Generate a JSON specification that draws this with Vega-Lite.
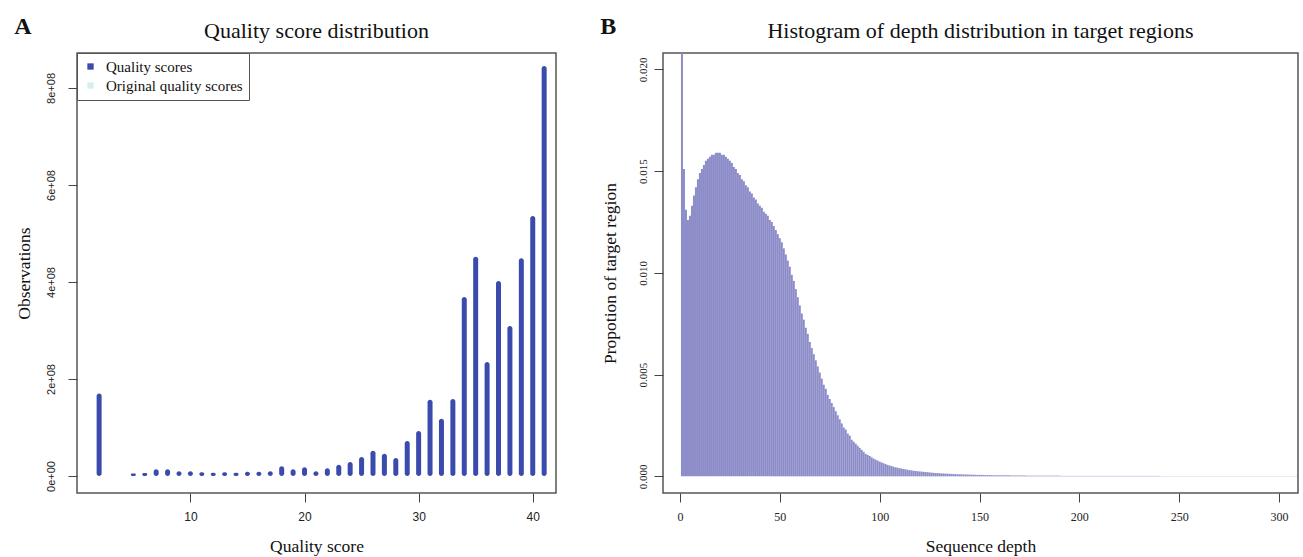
{
  "$schema": "https://vega.github.io/schema/vega-lite/v6.json",
  "padding": {"left": 14, "top": 15, "right": 4, "bottom": 0},
  "background": "white",
  "spacing": 43,
  "config": {
    "view": {"stroke": "#555", "strokeWidth": 1.5},
    "axis": {"domain": false, "grid": false, "tickColor": "#444", "tickSize": 9, "labelColor": "#222", "titleFont": "Liberation Serif", "titleFontSize": 17.5, "titleFontWeight": "normal", "titleColor": "#111"},
    "title": {"font": "Liberation Serif", "fontSize": 22, "fontWeight": "normal", "color": "#111"}
  },
  "datasets": {
    "quality": [
      {"q": 2, "n": 170000000, "s": "Quality scores"},
      {"q": 5, "n": 5000000, "s": "Quality scores"},
      {"q": 6, "n": 6000000, "s": "Quality scores"},
      {"q": 7, "n": 14000000, "s": "Quality scores"},
      {"q": 8, "n": 14000000, "s": "Quality scores"},
      {"q": 9, "n": 10000000, "s": "Quality scores"},
      {"q": 10, "n": 10000000, "s": "Quality scores"},
      {"q": 11, "n": 8000000, "s": "Quality scores"},
      {"q": 12, "n": 7000000, "s": "Quality scores"},
      {"q": 13, "n": 8000000, "s": "Quality scores"},
      {"q": 14, "n": 7000000, "s": "Quality scores"},
      {"q": 15, "n": 9000000, "s": "Quality scores"},
      {"q": 16, "n": 9000000, "s": "Quality scores"},
      {"q": 17, "n": 10000000, "s": "Quality scores"},
      {"q": 18, "n": 20000000, "s": "Quality scores"},
      {"q": 19, "n": 14000000, "s": "Quality scores"},
      {"q": 20, "n": 18000000, "s": "Quality scores"},
      {"q": 21, "n": 10000000, "s": "Quality scores"},
      {"q": 22, "n": 16000000, "s": "Quality scores"},
      {"q": 23, "n": 23000000, "s": "Quality scores"},
      {"q": 24, "n": 29000000, "s": "Quality scores"},
      {"q": 25, "n": 39000000, "s": "Quality scores"},
      {"q": 26, "n": 52000000, "s": "Quality scores"},
      {"q": 27, "n": 46000000, "s": "Quality scores"},
      {"q": 28, "n": 37000000, "s": "Quality scores"},
      {"q": 29, "n": 72000000, "s": "Quality scores"},
      {"q": 30, "n": 93000000, "s": "Quality scores"},
      {"q": 31, "n": 157000000, "s": "Quality scores"},
      {"q": 32, "n": 118000000, "s": "Quality scores"},
      {"q": 33, "n": 159000000, "s": "Quality scores"},
      {"q": 34, "n": 369000000, "s": "Quality scores"},
      {"q": 35, "n": 452000000, "s": "Quality scores"},
      {"q": 36, "n": 235000000, "s": "Quality scores"},
      {"q": 37, "n": 402000000, "s": "Quality scores"},
      {"q": 38, "n": 309000000, "s": "Quality scores"},
      {"q": 39, "n": 449000000, "s": "Quality scores"},
      {"q": 40, "n": 536000000, "s": "Quality scores"},
      {"q": 41, "n": 845000000, "s": "Quality scores"}
    ],
    "depth": [
      {"d":1,"p":0.035},{"d":2,"p":0.0151},{"d":3,"p":0.0131},{"d":4,"p":0.0126},{"d":5,"p":0.0128},{"d":6,"p":0.0133},{"d":7,"p":0.0138},{"d":8,"p":0.0142},{"d":9,"p":0.0146},{"d":10,"p":0.0149},
      {"d":11,"p":0.0151},{"d":12,"p":0.0153},{"d":13,"p":0.0155},{"d":14,"p":0.0156},{"d":15,"p":0.0157},{"d":16,"p":0.0158},{"d":17,"p":0.0158},{"d":18,"p":0.0159},{"d":19,"p":0.0159},{"d":20,"p":0.0159},
      {"d":21,"p":0.0158},{"d":22,"p":0.0158},{"d":23,"p":0.0157},{"d":24,"p":0.0156},{"d":25,"p":0.0155},{"d":26,"p":0.0154},{"d":27,"p":0.0152},{"d":28,"p":0.0151},{"d":29,"p":0.0149},{"d":30,"p":0.0148},
      {"d":31,"p":0.0146},{"d":32,"p":0.0145},{"d":33,"p":0.0143},{"d":34,"p":0.0142},{"d":35,"p":0.014},{"d":36,"p":0.0139},{"d":37,"p":0.0137},{"d":38,"p":0.0136},{"d":39,"p":0.0134},{"d":40,"p":0.0133},
      {"d":41,"p":0.0132},{"d":42,"p":0.013},{"d":43,"p":0.0129},{"d":44,"p":0.0128},{"d":45,"p":0.0126},{"d":46,"p":0.0125},{"d":47,"p":0.0123},{"d":48,"p":0.0121},{"d":49,"p":0.0119},{"d":50,"p":0.0117},
      {"d":51,"p":0.0115},{"d":52,"p":0.0112},{"d":53,"p":0.0109},{"d":54,"p":0.0106},{"d":55,"p":0.0103},{"d":56,"p":0.0099},{"d":57,"p":0.0096},{"d":58,"p":0.0092},{"d":59,"p":0.0088},{"d":60,"p":0.0084},
      {"d":61,"p":0.008},{"d":62,"p":0.0077},{"d":63,"p":0.0073},{"d":64,"p":0.007},{"d":65,"p":0.0066},{"d":66,"p":0.0063},{"d":67,"p":0.006},{"d":68,"p":0.0057},{"d":69,"p":0.0054},{"d":70,"p":0.0051},
      {"d":71,"p":0.0048},{"d":72,"p":0.0045},{"d":73,"p":0.0043},{"d":74,"p":0.004},{"d":75,"p":0.0038},{"d":76,"p":0.0036},{"d":77,"p":0.0034},{"d":78,"p":0.0032},{"d":79,"p":0.003},{"d":80,"p":0.0028},
      {"d":81,"p":0.0026},{"d":82,"p":0.0024},{"d":83,"p":0.0023},{"d":84,"p":0.0021},{"d":85,"p":0.002},{"d":86,"p":0.0018},{"d":87,"p":0.0017},{"d":88,"p":0.0016},{"d":89,"p":0.0015},{"d":90,"p":0.0014},
      {"d":91,"p":0.0013},{"d":92,"p":0.0012},{"d":93,"p":0.0011},{"d":94,"p":0.00105},{"d":95,"p":0.001},{"d":96,"p":0.00093},{"d":97,"p":0.00087},{"d":98,"p":0.00082},{"d":99,"p":0.00077},{"d":100,"p":0.00072},
      {"d":101,"p":0.00068},{"d":102,"p":0.00064},{"d":103,"p":0.0006},{"d":104,"p":0.00056},{"d":105,"p":0.00053},{"d":106,"p":0.0005},{"d":107,"p":0.00047},{"d":108,"p":0.00044},{"d":109,"p":0.00042},{"d":110,"p":0.0004},
      {"d":111,"p":0.00038},{"d":112,"p":0.00036},{"d":113,"p":0.00034},{"d":114,"p":0.00032},{"d":115,"p":0.0003},{"d":116,"p":0.00029},{"d":117,"p":0.00027},{"d":118,"p":0.00026},{"d":119,"p":0.00025},{"d":120,"p":0.00024},
      {"d":121,"p":0.00023},{"d":122,"p":0.00022},{"d":123,"p":0.00021},{"d":124,"p":0.0002},{"d":125,"p":0.00019},{"d":126,"p":0.00018},{"d":127,"p":0.00017},{"d":128,"p":0.00016},{"d":129,"p":0.00016},{"d":130,"p":0.00015},
      {"d":131,"p":0.00014},{"d":132,"p":0.00014},{"d":133,"p":0.00013},{"d":134,"p":0.00013},{"d":135,"p":0.00012},{"d":136,"p":0.00012},{"d":137,"p":0.00011},{"d":138,"p":0.00011},{"d":139,"p":0.0001},{"d":140,"p":0.0001},
      {"d":141,"p":0.0001},{"d":142,"p":0.00009},{"d":143,"p":0.00009},{"d":144,"p":0.00009},{"d":145,"p":0.00008},{"d":146,"p":0.00008},{"d":147,"p":0.00008},{"d":148,"p":0.00007},{"d":149,"p":0.00007},{"d":150,"p":0.00007},
      {"d":151,"p":0.00007},{"d":152,"p":0.00006},{"d":153,"p":0.00006},{"d":154,"p":0.00006},{"d":155,"p":0.00006},{"d":156,"p":0.00006},{"d":157,"p":0.00005},{"d":158,"p":0.00005},{"d":159,"p":0.00005},{"d":160,"p":0.00005},
      {"d":161,"p":0.00005},{"d":162,"p":0.00005},{"d":163,"p":0.00005},{"d":164,"p":0.00005},{"d":165,"p":0.00005},{"d":166,"p":0.00004},{"d":167,"p":0.00004},{"d":168,"p":0.00004},{"d":169,"p":0.00004},{"d":170,"p":0.00004},
      {"d":171,"p":0.00004},{"d":172,"p":0.00004},{"d":173,"p":0.00004},{"d":174,"p":0.00003},{"d":175,"p":0.00003},{"d":176,"p":0.00003},{"d":177,"p":0.00003},{"d":178,"p":0.00003},{"d":179,"p":0.00003},{"d":180,"p":0.00003},
      {"d":181,"p":0.00003},{"d":182,"p":0.00003},{"d":183,"p":0.00003},{"d":184,"p":0.00003},{"d":185,"p":0.00003},{"d":186,"p":0.00003},{"d":187,"p":0.00003},{"d":188,"p":0.00003},{"d":189,"p":0.00003},{"d":190,"p":0.00003},
      {"d":191,"p":0.00002},{"d":192,"p":0.00002},{"d":193,"p":0.00002},{"d":194,"p":0.00002},{"d":195,"p":0.00002},{"d":196,"p":0.00002},{"d":197,"p":0.00002},{"d":198,"p":0.00002},{"d":199,"p":0.00002},{"d":200,"p":0.00002},
      {"d":201,"p":0.00002},{"d":202,"p":0.00002},{"d":203,"p":0.00002},{"d":204,"p":0.00002},{"d":205,"p":0.00002},{"d":206,"p":0.00002},{"d":207,"p":0.00002},{"d":208,"p":0.00002},{"d":209,"p":0.00002},{"d":210,"p":0.00002},
      {"d":211,"p":0.00002},{"d":212,"p":0.00002},{"d":213,"p":0.00002},{"d":214,"p":0.00002},{"d":215,"p":0.00002},{"d":216,"p":0.00002},{"d":217,"p":0.00002},{"d":218,"p":0.00002},{"d":219,"p":0.00002},{"d":220,"p":0.00002},
      {"d":221,"p":0.00002},{"d":222,"p":0.00002},{"d":223,"p":0.00002},{"d":224,"p":0.00002},{"d":225,"p":0.00002},{"d":226,"p":0.00002},{"d":227,"p":0.00002},{"d":228,"p":0.00002},{"d":229,"p":0.00002},{"d":230,"p":0.00002},
      {"d":231,"p":0.00002},{"d":232,"p":0.00002},{"d":233,"p":0.00002},{"d":234,"p":0.00002},{"d":235,"p":0.00002},{"d":236,"p":0.00002},{"d":237,"p":0.00002},{"d":238,"p":0.00002},{"d":239,"p":0.00002},{"d":240,"p":0.00002},
      {"d":241,"p":0.00001},{"d":242,"p":0.00001},{"d":243,"p":0.00001},{"d":244,"p":0.00001},{"d":245,"p":0.00001},{"d":246,"p":0.00001},{"d":247,"p":0.00001},{"d":248,"p":0.00001},{"d":249,"p":0.00001},{"d":250,"p":0.00001},
      {"d":251,"p":0.00001},{"d":252,"p":0.00001},{"d":253,"p":0.00001},{"d":254,"p":0.00001},{"d":255,"p":0.00001},{"d":256,"p":0.00001},{"d":257,"p":0.00001},{"d":258,"p":0.00001},{"d":259,"p":0.00001},{"d":260,"p":0.00001},
      {"d":261,"p":0.00001},{"d":262,"p":0.00001},{"d":263,"p":0.00001},{"d":264,"p":0.00001},{"d":265,"p":0.00001},{"d":266,"p":0.00001},{"d":267,"p":0.00001},{"d":268,"p":0.00001},{"d":269,"p":0.00001},{"d":270,"p":0.00001},
      {"d":271,"p":0.00001},{"d":272,"p":0.00001},{"d":273,"p":0.00001},{"d":274,"p":0.00001},{"d":275,"p":0.00001},{"d":276,"p":0.00001},{"d":277,"p":0.00001},{"d":278,"p":0.00001},{"d":279,"p":0.00001},{"d":280,"p":0.00001},
      {"d":281,"p":0.00001},{"d":282,"p":0.00001},{"d":283,"p":0.00001},{"d":284,"p":0.00001},{"d":285,"p":0.00001},{"d":286,"p":0.00001},{"d":287,"p":0.00001},{"d":288,"p":0.00001},{"d":289,"p":0.00001},{"d":290,"p":0.00001},
      {"d":291,"p":0.00001},{"d":292,"p":0.00001},{"d":293,"p":0.00001},{"d":294,"p":0.00001},{"d":295,"p":0.00001},{"d":296,"p":0.00001},{"d":297,"p":0.00001},{"d":298,"p":0.00001},{"d":299,"p":0.00001},{"d":300,"p":0.00001},
      {"d":301,"p":0.00001},{"d":302,"p":0.00001},{"d":303,"p":0.00001},{"d":304,"p":0.00001},{"d":305,"p":0.00001},{"d":306,"p":0.00001},{"d":307,"p":0.00001},{"d":308,"p":0.00001},{"d":309,"p":0.00001}
    ]
  },
  "hconcat": [
    {
      "title": {"text": "A", "anchor": "start", "frame": "bounds", "fontWeight": "bold", "fontSize": 24, "offset": -20},
      "vconcat": [
        {
          "title": {"text": "Quality score distribution", "anchor": "middle", "offset": 10},
          "width": 479,
          "height": 440,
          "data": {"name": "quality"},
          "mark": {"type": "bar", "width": 5, "cornerRadius": 2.5},
          "encoding": {
            "x": {"field": "q", "type": "quantitative", "scale": {"domain": [0.5, 41.6], "nice": false, "zero": false},
                  "axis": {"values": [10, 20, 30, 40], "title": "Quality score", "labelFont": "Liberation Sans", "labelFontSize": 12, "labelPadding": 9, "titlePadding": 15}},
            "y": {"field": "n", "type": "quantitative", "stack": null, "scale": {"domain": [-35000000, 872000000], "nice": false, "zero": false},
                  "axis": {"values": [0, 200000000, 400000000, 600000000, 800000000], "labelExpr": "datum.value == 0 ? '0e+00' : (datum.value/1e8) + 'e+08'", "labelAngle": -90, "labelFont": "Liberation Sans", "labelFontSize": 11, "labelPadding": 12, "title": "Observations", "titlePadding": 12}},
            "y2": {"datum": 0},
            "color": {"field": "s", "type": "nominal",
                      "scale": {"domain": ["Quality scores", "Original quality scores"], "range": ["#3b4bad", "#d3eeee"]},
                      "legend": {"title": null, "orient": "top-left", "offset": 0, "symbolType": "square", "symbolSize": 40, "labelFont": "Liberation Serif", "labelFontSize": 15, "labelColor": "#111", "strokeColor": "#555", "fillColor": "white", "padding": 6, "rowPadding": 3, "labelOffset": 8}}
          }
        }
      ]
    },
    {
      "title": {"text": "B", "anchor": "start", "frame": "bounds", "fontWeight": "bold", "fontSize": 24, "offset": -20},
      "vconcat": [
        {
          "title": {"text": "Histogram of depth distribution in target regions", "anchor": "middle", "offset": 10},
          "width": 635,
          "height": 440,
          "data": {"name": "depth"},
          "mark": {"type": "rule", "color": "#8c8cc9", "strokeWidth": 2, "clip": true},
          "encoding": {
            "x": {"field": "d", "type": "quantitative", "scale": {"domain": [-8.5, 309.5], "nice": false, "zero": false},
                  "axis": {"values": [0, 50, 100, 150, 200, 250, 300], "title": "Sequence depth", "labelFont": "Liberation Serif", "labelFontSize": 12, "labelPadding": 9, "titlePadding": 15}},
            "y": {"field": "p", "type": "quantitative", "scale": {"domain": [-0.00082, 0.0208], "nice": false, "zero": false},
                  "axis": {"values": [0, 0.005, 0.01, 0.015, 0.02], "format": ".3f", "labelAngle": -90, "labelFont": "Liberation Serif", "labelFontSize": 11, "labelPadding": 6, "title": "Propotion of target region", "titlePadding": 18}},
            "y2": {"datum": 0}
          }
        }
      ]
    }
  ]
}
